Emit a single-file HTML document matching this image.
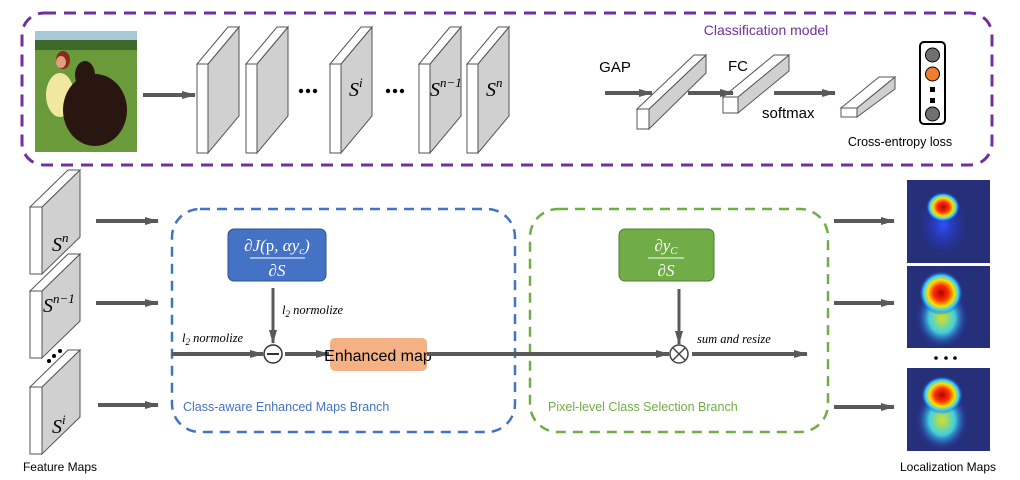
<!DOCTYPE html>
<html><head><meta charset="utf-8"><style>
body{margin:0;background:#fff}
svg{display:block}
text{font-family:"Liberation Sans",sans-serif}
.m{font-family:"Liberation Serif",serif;font-style:italic}
</style></head><body>
<svg width="1020" height="480" viewBox="0 0 1020 480" xmlns="http://www.w3.org/2000/svg">
<defs>
<marker id="ah" markerWidth="14" markerHeight="8" refX="13" refY="4" orient="auto" markerUnits="userSpaceOnUse"><path d="M0,0L14,4L0,8z" fill="#595959"/></marker>
<radialGradient id="hot" cx="0.5" cy="0.5" r="0.5"><stop offset="0" stop-color="#b00000"/><stop offset="0.35" stop-color="#ff3000"/><stop offset="0.6" stop-color="#ffe000"/><stop offset="0.8" stop-color="#30d0ff"/><stop offset="1" stop-color="#2030c0" stop-opacity="0"/></radialGradient>
<radialGradient id="warm" cx="0.5" cy="0.5" r="0.5"><stop offset="0" stop-color="#d8e020"/><stop offset="0.5" stop-color="#40d0e0"/><stop offset="1" stop-color="#2030c0" stop-opacity="0"/></radialGradient>
<radialGradient id="sm" cx="0.5" cy="0.5" r="0.5"><stop offset="0" stop-color="#3050ff"/><stop offset="1" stop-color="#2030c0" stop-opacity="0"/></radialGradient>
</defs>
<rect x="22" y="13" width="970" height="152" rx="22" fill="none" stroke="#7030a0" stroke-width="3" stroke-dasharray="12,8"/>
<text x="766" y="35" font-size="14" fill="#7030a0" text-anchor="middle">Classification model</text>
<rect x="35" y="31" width="102" height="121" fill="#6a9a3a"/>
<rect x="35" y="31" width="102" height="18" fill="#a8c8d8"/>
<rect x="35" y="40" width="102" height="10" fill="#3d6a2a"/>
<ellipse cx="63" cy="60" rx="7" ry="9" fill="#8a2a1a"/>
<ellipse cx="60" cy="95" rx="14" ry="22" fill="#f0e8a0"/>
<ellipse cx="61" cy="62" rx="5" ry="6" fill="#e0a080"/>
<ellipse cx="95" cy="110" rx="32" ry="36" fill="#2a1610"/>
<ellipse cx="85" cy="75" rx="10" ry="14" fill="#2a1610"/>
<line x1="143" y1="95" x2="195" y2="95" stroke="#595959" stroke-width="4" marker-end="url(#ah)"/>
<g stroke="#555" stroke-width="1">
<g id="s1"><polygon points="208,64 239,27 239,116 208,153" fill="#d0d0d0"/><polygon points="197,64 208,64 239,27 228,27" fill="#fff"/><rect x="197" y="64" width="11" height="89" fill="#fff"/></g>
<use href="#s1" x="49"/><use href="#s1" x="133"/><use href="#s1" x="222"/><use href="#s1" x="270"/>
</g>
<circle cx="301" cy="91" r="2.2"/><circle cx="308" cy="91" r="2.2"/><circle cx="315" cy="91" r="2.2"/>
<circle cx="388" cy="91" r="2.2"/><circle cx="395" cy="91" r="2.2"/><circle cx="402" cy="91" r="2.2"/>
<text x="349" y="96" class="m" font-size="20">S<tspan font-size="13" dy="-9">i</tspan></text>
<text x="430" y="96" class="m" font-size="20">S<tspan font-size="13" dy="-9">n−1</tspan></text>
<text x="486" y="96" class="m" font-size="20">S<tspan font-size="13" dy="-9">n</tspan></text>
<text x="615" y="72" font-size="15" text-anchor="middle">GAP</text>
<line x1="605" y1="93" x2="652" y2="93" stroke="#595959" stroke-width="4" marker-end="url(#ah)"/>
<g stroke="#555" stroke-width="1">
<polygon points="649,109 706,55 706,73 649,129" fill="#d0d0d0"/><polygon points="637,109 649,109 706,55 694,55" fill="#fff"/><rect x="637" y="109" width="12" height="20" fill="#fff"/>
<polygon points="738,97 789,55 789,71 738,113" fill="#d0d0d0"/><polygon points="723,97 738,97 789,55 774,55" fill="#fff"/><rect x="723" y="97" width="15" height="16" fill="#fff"/>
<polygon points="857,108 895,77 895,89 857,117" fill="#d0d0d0"/><polygon points="841,108 857,108 895,77 879,77" fill="#fff"/><rect x="841" y="108" width="16" height="9" fill="#fff"/>
</g>
<line x1="688" y1="93" x2="733" y2="93" stroke="#595959" stroke-width="4" marker-end="url(#ah)"/>
<text x="738" y="71" font-size="15" text-anchor="middle">FC</text>
<line x1="774" y1="93" x2="835" y2="93" stroke="#595959" stroke-width="4" marker-end="url(#ah)"/>
<text x="762" y="118" font-size="15">softmax</text>
<text x="900" y="146" font-size="12.5" text-anchor="middle">Cross-entropy loss</text>
<rect x="920" y="42" width="25" height="82" rx="4" fill="#fff" stroke="#000" stroke-width="2"/>
<circle cx="932.5" cy="55" r="7" fill="#707070" stroke="#000"/><circle cx="932.5" cy="74" r="7" fill="#ed7d31" stroke="#000"/>
<rect x="930" y="87" width="5" height="5"/><rect x="930" y="98" width="5" height="5"/>
<circle cx="932.5" cy="114" r="7" fill="#707070" stroke="#000"/>
<g stroke="#555" stroke-width="1">
<g id="s2"><polygon points="42,207 80,170 80,237 42,274" fill="#d0d0d0"/><polygon points="30,207 42,207 80,170 68,170" fill="#fff"/><rect x="30" y="207" width="12" height="67" fill="#fff"/></g>
<use href="#s2" y="84"/><use href="#s2" y="180"/>
</g>
<text x="52" y="251" class="m" font-size="20">S<tspan font-size="13" dy="-9">n</tspan></text>
<text x="43" y="312" class="m" font-size="20">S<tspan font-size="13" dy="-9">n−1</tspan></text>
<text x="52" y="433" class="m" font-size="20">S<tspan font-size="13" dy="-9">i</tspan></text>
<circle cx="49" cy="361" r="2"/><circle cx="54" cy="356" r="2"/><circle cx="60" cy="351" r="2"/>
<text x="60" y="471" font-size="12" text-anchor="middle">Feature Maps</text>
<line x1="96" y1="221" x2="158" y2="221" stroke="#595959" stroke-width="4" marker-end="url(#ah)"/>
<line x1="96" y1="303" x2="158" y2="303" stroke="#595959" stroke-width="4" marker-end="url(#ah)"/>
<line x1="98" y1="405" x2="158" y2="405" stroke="#595959" stroke-width="4" marker-end="url(#ah)"/>
<rect x="172" y="209" width="343" height="223" rx="28" fill="none" stroke="#4472c4" stroke-width="2.5" stroke-dasharray="10,7"/>
<rect x="228" y="229" width="98" height="52" rx="6" fill="#4472c4" stroke="#2f528f"/>
<text x="277" y="251" class="m" font-size="17" fill="#fff" text-anchor="middle">∂J(<tspan font-style="normal">p</tspan>, αy<tspan font-size="11" dy="3">c</tspan><tspan dy="-3">)</tspan></text>
<line x1="250" y1="258" x2="305" y2="258" stroke="#fff" stroke-width="1"/>
<text x="277" y="276" class="m" font-size="17" fill="#fff" text-anchor="middle">∂S</text>
<line x1="273" y1="288" x2="273" y2="343" stroke="#595959" stroke-width="3" marker-end="url(#ah)"/>
<text x="282" y="314" class="m" font-size="12.5">l<tspan font-size="9" dy="3">2</tspan><tspan dy="-3"> normolize</tspan></text>
<text x="182" y="342" class="m" font-size="12.5">l<tspan font-size="9" dy="3">2</tspan><tspan dy="-3"> normolize</tspan></text>
<line x1="172" y1="354" x2="263" y2="354" stroke="#595959" stroke-width="4" marker-end="url(#ah)"/>
<circle cx="273" cy="354" r="9" fill="#fff" stroke="#333" stroke-width="1.5"/><line x1="267" y1="354" x2="279" y2="354" stroke="#333" stroke-width="2"/>
<line x1="285" y1="354" x2="329" y2="354" stroke="#595959" stroke-width="4" marker-end="url(#ah)"/>
<rect x="330" y="338" width="97" height="33" rx="5" fill="#f4b183"/>
<text x="378" y="361" font-size="16" text-anchor="middle">Enhanced map</text>
<text x="183" y="411" font-size="12.5" fill="#4472c4">Class-aware Enhanced Maps Branch</text>
<rect x="530" y="209" width="298" height="223" rx="28" fill="none" stroke="#70ad47" stroke-width="2.5" stroke-dasharray="10,7"/>
<rect x="619" y="229" width="95" height="52" rx="6" fill="#70ad47" stroke="#507e32"/>
<text x="666" y="251" class="m" font-size="17" fill="#fff" text-anchor="middle">∂y<tspan font-size="11" dy="3">C</tspan></text>
<line x1="648" y1="258" x2="684" y2="258" stroke="#fff" stroke-width="1"/>
<text x="666" y="276" class="m" font-size="17" fill="#fff" text-anchor="middle">∂S</text>
<line x1="427" y1="354" x2="669" y2="354" stroke="#595959" stroke-width="4" marker-end="url(#ah)"/>
<line x1="679" y1="289" x2="679" y2="344" stroke="#595959" stroke-width="3" marker-end="url(#ah)"/>
<circle cx="679" cy="354" r="9" fill="#fff" stroke="#444" stroke-width="1.5"/>
<line x1="673" y1="348" x2="685" y2="360" stroke="#444" stroke-width="1.5"/><line x1="685" y1="348" x2="673" y2="360" stroke="#444" stroke-width="1.5"/>
<line x1="692" y1="354" x2="807" y2="354" stroke="#595959" stroke-width="4" marker-end="url(#ah)"/>
<text x="697" y="343" class="m" font-size="12.5">sum and resize</text>
<text x="548" y="411" font-size="12.5" fill="#70ad47">Pixel-level Class Selection Branch</text>
<line x1="834" y1="221" x2="894" y2="221" stroke="#595959" stroke-width="4" marker-end="url(#ah)"/>
<line x1="834" y1="303" x2="894" y2="303" stroke="#595959" stroke-width="4" marker-end="url(#ah)"/>
<line x1="834" y1="407" x2="894" y2="407" stroke="#595959" stroke-width="4" marker-end="url(#ah)"/>
<g><rect x="907" y="180" width="83" height="83" fill="#26307a"/><ellipse cx="943" cy="225" rx="24" ry="30" fill="url(#sm)"/><ellipse cx="943" cy="207" rx="17" ry="15" fill="url(#hot)"/></g>
<g><rect x="907" y="266" width="83" height="82" fill="#26307a"/><ellipse cx="942" cy="318" rx="26" ry="30" fill="url(#warm)"/><ellipse cx="941" cy="293" rx="22" ry="22" fill="url(#hot)"/></g>
<g><rect x="907" y="368" width="83" height="83" fill="#26307a"/><ellipse cx="942" cy="420" rx="26" ry="30" fill="url(#warm)"/><ellipse cx="942" cy="395" rx="21" ry="19" fill="url(#hot)"/></g>
<circle cx="936" cy="358" r="1.8"/><circle cx="946" cy="358" r="1.8"/><circle cx="955" cy="358" r="1.8"/>
<text x="948" y="471" font-size="12" text-anchor="middle">Localization Maps</text>
</svg>
</body></html>
